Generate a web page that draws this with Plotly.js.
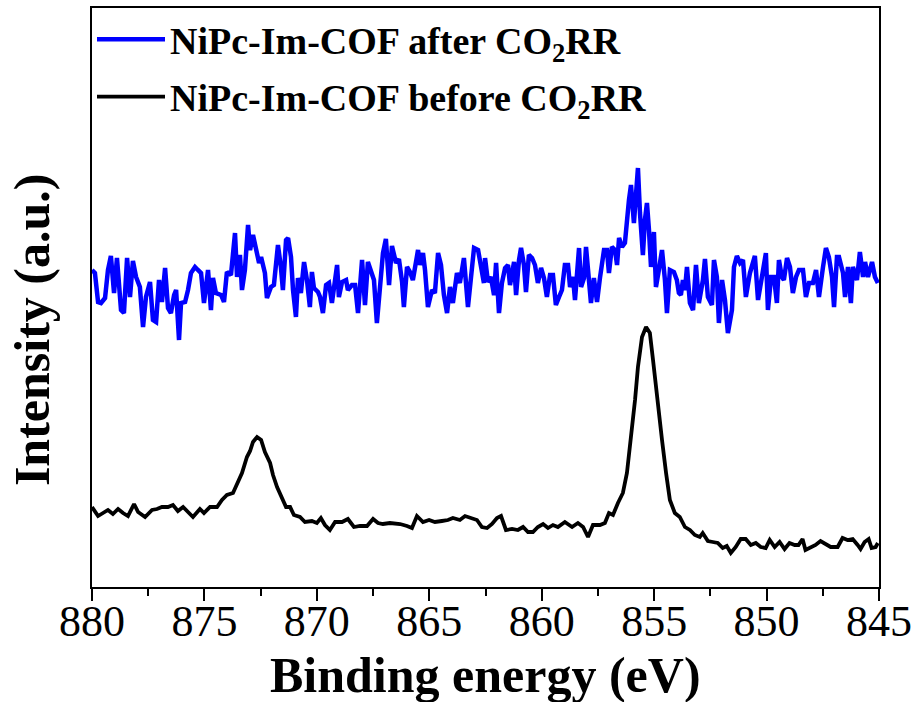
<!DOCTYPE html>
<html>
<head>
<meta charset="utf-8">
<script src="https://cdn.plot.ly/plotly-3.0.1.min.js"></script>
<style>html,body{margin:0;padding:0;background:#fff;}#chart{width:915px;height:702px;}</style>
</head>
<body>
<div id="chart"></div>
<script>
// NiPc-Im-COF after CO2RR (blue)
const afterEnergy = [880.00,879.87,879.73,879.60,879.42,879.29,879.16,879.02,878.89,878.75,878.71,878.58,878.44,878.31,878.18,878.04,877.87,877.73,877.60,877.42,877.29,877.15,877.02,876.89,876.75,876.62,876.49,876.35,876.26,876.13,876.04,875.86,875.73,875.60,875.42,875.29,875.15,875.02,874.84,874.71,874.62,874.49,874.26,874.13,874.00,873.82,873.64,873.55,873.42,873.33,873.20,873.06,872.97,872.84,872.71,872.57,872.48,872.31,872.22,872.04,871.91,871.73,871.60,871.51,871.37,871.28,871.15,871.06,870.93,870.84,870.71,870.57,870.44,870.31,870.22,870.13,869.95,869.86,869.73,869.59,869.46,869.33,869.10,869.02,868.88,868.70,868.62,868.44,868.30,868.17,867.99,867.86,867.73,867.59,867.46,867.33,867.19,867.06,866.93,866.79,866.66,866.48,866.35,866.21,866.13,865.99,865.86,865.73,865.50,865.41,865.28,865.19,865.06,864.88,864.75,864.61,864.48,864.35,864.21,864.08,863.95,863.77,863.64,863.46,863.28,863.15,863.01,862.83,862.66,862.57,862.52,862.39,862.26,862.12,862.03,861.90,861.77,861.63,861.50,861.41,861.23,861.14,861.01,860.92,860.79,860.70,860.57,860.43,860.30,860.17,860.03,859.90,859.77,859.63,859.50,859.37,859.23,859.10,858.97,858.83,858.74,858.61,858.52,858.34,858.25,858.12,858.03,857.90,857.81,857.68,857.54,857.41,857.23,857.10,857.01,856.88,856.74,856.65,856.56,856.43,856.30,856.12,856.03,855.90,855.81,855.72,855.63,855.50,855.41,855.32,855.23,855.14,855.01,854.92,854.79,854.65,854.52,854.43,854.30,854.12,853.99,853.90,853.81,853.72,853.63,853.54,853.41,853.27,853.14,853.01,852.83,852.74,852.61,852.43,852.34,852.21,852.12,851.98,851.85,851.72,851.54,851.45,851.32,851.18,851.05,850.92,850.74,850.61,850.52,850.38,850.25,850.16,850.03,849.94,849.80,849.67,849.54,849.45,849.32,849.23,849.09,848.96,848.83,848.69,848.56,848.38,848.25,848.11,847.94,847.80,847.67,847.49,847.36,847.23,847.09,847.00,846.87,846.78,846.60,846.51,846.38,846.25,846.16,845.98,845.85,845.71,845.62,845.49,845.31,845.18,845.05];
const afterIntensity = [317,314,285,284,289,317,331,294,329,294,277,274,329,290,326,310,300,260,290,305,267,265,307,285,319,279,274,292,297,247,284,285,297,314,320,317,314,284,317,277,309,294,292,285,315,312,354,310,332,297,317,362,337,352,337,324,330,314,289,300,302,342,320,297,347,349,330,297,270,309,294,325,307,280,315,299,295,290,274,302,304,284,322,290,305,307,297,302,302,274,327,282,325,314,307,264,304,334,348,302,341,324,328,305,280,320,315,307,337,322,334,317,280,297,294,334,322,292,274,300,284,314,304,329,280,304,339,337,315,304,329,305,310,292,324,274,304,319,322,302,325,292,327,339,322,295,332,329,322,304,319,309,290,312,312,282,290,297,322,322,300,310,287,339,300,309,340,309,284,309,285,309,337,337,314,340,337,322,349,340,344,387,402,364,400,419,374,332,367,384,357,320,355,300,317,337,307,274,317,315,307,294,292,307,297,320,284,277,322,284,307,328,290,282,327,310,264,307,287,254,277,320,331,324,327,290,314,327,331,287,304,320,334,277,310,310,284,327,310,307,329,320,294,310,317,317,290,304,304,317,290,320,339,330,310,280,330,330,314,290,320,284,320,307,335,310,325,310,325,310,304];

// NiPc-Im-COF before CO2RR (black)
const beforeEnergy = [880.00,879.73,879.51,879.29,879.07,878.84,878.62,878.40,878.13,877.95,877.64,877.33,877.11,876.89,876.62,876.40,876.18,875.95,875.73,875.51,875.20,875.02,874.75,874.44,874.22,874.00,873.73,873.51,873.33,873.11,872.97,872.84,872.66,872.48,872.31,872.08,871.95,871.77,871.55,871.37,871.19,871.02,870.75,870.53,870.22,870.00,869.82,869.64,869.42,869.19,868.88,868.62,868.35,868.08,867.77,867.50,867.28,867.06,866.75,866.30,865.99,865.77,865.55,865.28,865.01,864.75,864.44,864.17,863.95,863.64,863.41,863.10,862.88,862.66,862.43,862.21,861.99,861.81,861.59,861.32,861.06,860.83,860.61,860.39,860.17,859.94,859.72,859.50,859.28,858.97,858.65,858.39,858.16,857.94,857.72,857.41,857.19,857.01,856.83,856.61,856.39,856.21,855.99,855.85,855.72,855.54,855.36,855.19,855.05,854.87,854.65,854.47,854.30,854.08,853.86,853.63,853.41,853.19,852.97,852.84,852.61,852.39,852.17,851.95,851.77,851.59,851.37,851.15,850.93,850.70,850.48,850.26,850.04,849.86,849.64,849.42,849.20,848.98,848.75,848.58,848.40,848.27,848.04,847.82,847.60,847.37,847.15,846.84,846.62,846.40,846.17,845.95,845.82,845.64,845.46,845.33,845.15,845.05];
const beforeIntensity = [80,71,74,77,73,78,74,71,83,75,70,77,78,80,80,82,76,80,75,70,78,74,80,80,87,92,94,104,114,130,136,145,150,147,135,124,112,100,90,80,80,72,70,65,66,64,69,62,57,65,65,68,60,61,61,68,64,63,64,63,61,59,71,65,67,65,66,67,69,67,71,69,67,60,59,63,69,71,57,58,57,60,55,55,60,63,59,62,60,65,60,64,60,50,62,62,64,74,72,84,94,114,154,187,220,250,260,254,227,187,147,114,87,74,70,60,57,52,50,54,46,45,44,39,41,34,40,48,48,42,44,40,39,47,40,45,38,44,42,42,48,37,40,42,46,43,40,40,49,47,48,42,38,45,48,39,40,44];

const seriesNames = ['NiPc-Im-COF after CO<sub>2</sub>RR', 'NiPc-Im-COF before CO<sub>2</sub>RR'];
const xTitle = 'Binding energy (eV)';
const yTitle = 'Intensity (a.u.)';

const serif = 'Liberation Serif, Times New Roman, serif';

const traces = [
  {x: afterEnergy, y: afterIntensity, type: 'scatter', mode: 'lines', name: seriesNames[0],
   legendgroup: 'after', line: {color: '#0000ff', width: 4.5}},
  {x: beforeEnergy, y: beforeIntensity, type: 'scatter', mode: 'lines', name: seriesNames[1],
   legendgroup: 'before', line: {color: '#000000', width: 3.8}}
];

const layout = {
  width: 915, height: 702,
  margin: {l: 92, r: 36, t: 8, b: 115},
  paper_bgcolor: '#fff', plot_bgcolor: '#fff',
  font: {family: serif, color: '#000'},
  showlegend: true,
  legend: {x: 0.0, y: 1.0, xanchor: 'left', yanchor: 'top', bgcolor: 'rgba(0,0,0,0)',
           font: {family: serif, size: 38, color: '#000', weight: 'bold'}, traceorder: 'grouped',
           tracegroupgap: 5, itemwidth: 68},
  xaxis: {
    range: [880, 845], dtick: 5, tick0: 845,
    showline: true, linecolor: '#000', linewidth: 2, mirror: true,
    ticks: 'outside', ticklen: 12, tickwidth: 2, tickcolor: '#000',
    minor: {dtick: 2.5, ticks: 'outside', ticklen: 7, tickwidth: 2, tickcolor: '#000'},
    showgrid: false, zeroline: false,
    tickfont: {family: serif, size: 44, color: '#000'},
    ticklabelstandoff: -18,
    automargin: false
  },
  yaxis: {
    range: [0, 579], showticklabels: false, ticks: '',
    showline: true, linecolor: '#000', linewidth: 2, mirror: true,
    showgrid: false, zeroline: false, automargin: false
  },
  annotations: [{
    text: '<b>' + yTitle + '</b>', xref: 'paper', yref: 'paper',
    x: -0.076, y: 0.444, xanchor: 'center', yanchor: 'middle', textangle: -90, showarrow: false,
    font: {family: serif, size: 50, color: '#000'}
  }, {
    text: '<b>' + xTitle + '</b>', xref: 'paper', yref: 'paper',
    x: 0.5, y: -0.152, xanchor: 'center', yanchor: 'middle', showarrow: false,
    font: {family: serif, size: 50, color: '#000'}
  }]
};

Plotly.newPlot('chart', traces, layout, {displayModeBar: false, staticPlot: true});
</script>
</body>
</html>
